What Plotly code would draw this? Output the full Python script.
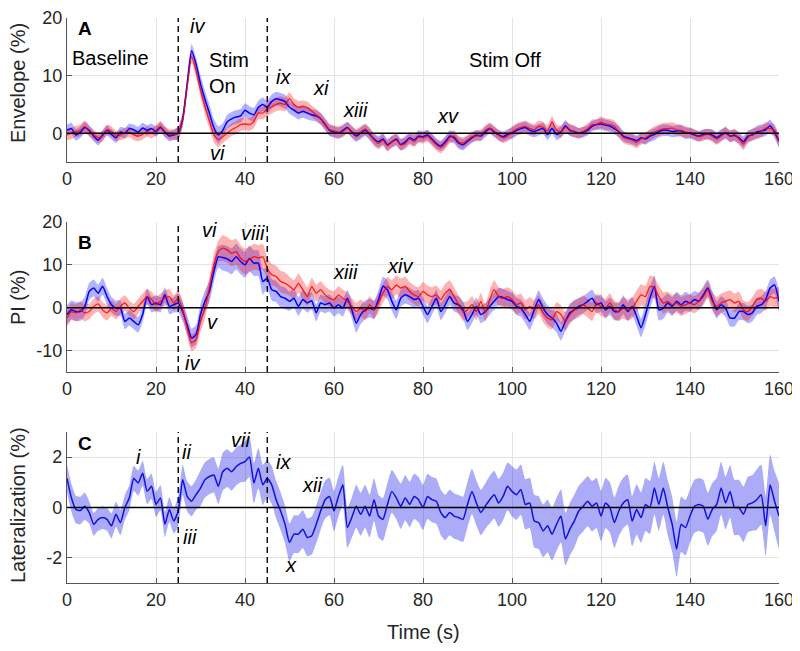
import numpy as np
import plotly.graph_objects as go

# ---------------- data (1 s resolution, t = 0..160 s) ----------------
time_s = list(range(161))

env_blue = [
    0.5, 0.8, -0.3, 0.2, 1.0, 0.5, -0.5, -1.2, -0.3, 0.5,
    -0.2, -0.8, 0.2, 0.0, 0.8, 0.6, 0.2, 0.9, 0.5, 0.8,
    0.3, 1.0, 0.2, -0.5, -0.3, 0.0, 2.5, 8.5, 14.3, 12.0,
    8.6, 5.9, 3.5, 1.0, -0.3, 0.5, 2.0, 2.5, 2.8, 3.0,
    4.0, 3.5, 3.2, 4.5, 5.0, 4.5, 5.5, 6.0, 5.8, 5.5,
    4.5, 4.0, 3.5, 3.8, 3.5, 3.2, 3.0, 2.5, 1.5, 0.5,
    0.2, 0.0, 0.5, 1.0, 0.2, -0.5, 0.0, 0.5, -0.2, -1.0,
    -1.5, -1.0, -2.0, -1.5, -1.0, -2.0, -1.5, -0.8, -1.2, -0.5,
    -0.6, -0.3, -1.0, -1.8, -2.2, -1.5, -0.5, -0.8, -1.7, -2.0,
    -1.4, -0.8, -0.3, -0.5, 0.2, 0.8, 0.2, -0.3, -0.6, -0.2,
    0.0, 0.5, 0.8, 1.0, 0.5, 0.3, 0.6, 0.8, -0.2, 0.8,
    -0.2, 0.2, 1.3, 0.5, 0.3, 0.0, 0.2, 0.5, 1.2, 1.5,
    1.6, 1.4, 1.2, 0.8, 0.3, -0.5, -0.8, -1.0, -1.3, -0.8,
    -1.0, -0.5, -0.2, 0.3, 0.5, 0.5, 0.3, 0.4, 0.4, 0.0,
    0.0, -0.3, -0.5, -0.2, -0.2, -0.3, -0.8, -0.3, 0.0, -0.5,
    -0.4, -0.8, -1.5, -0.5, -0.3, 0.2, 0.4, 0.6, 1.3, 0.2,
    -1.4,
]
env_red = [
    -0.2, 0.0, 0.3, 0.5, 1.2, 0.3, -0.3, -0.8, -0.5, 0.6,
    0.3, -0.5, -0.3, 0.0, 0.2, -0.3, -0.5, -0.2, 0.3, 0.0,
    0.5, 1.2, 0.3, -0.2, -0.2, 0.0, 2.2, 8.0, 13.3, 10.8,
    7.5, 4.6, 2.1, -0.3, -1.1, -0.6, 0.0, 0.6, 1.0, 1.5,
    1.6, 1.5, 2.0, 3.5, 3.5, 4.2, 4.6, 5.0, 5.2, 5.0,
    6.0, 5.0, 4.5, 4.6, 4.4, 3.8, 3.2, 2.5, 1.6, 0.6,
    0.4, 0.2, 0.3, 0.9, 0.3, -0.3, 0.2, 0.7, 0.0, -1.2,
    -1.8, -1.2, -2.2, -1.5, -1.2, -2.0, -1.8, -1.0, -1.4, -0.7,
    -0.8, -0.5, -1.2, -2.0, -2.5, -1.8, -0.8, -0.5, -1.5, -1.7,
    -1.2, -0.6, -0.5, -0.3, 0.5, 0.9, 0.4, -0.4, -0.8, -0.5,
    0.2, 0.7, 1.0, 1.2, 0.8, 0.6, 1.2, 1.0, 0.4, 2.0,
    0.5, 0.3, 1.0, 0.6, 0.3, 0.0, 0.3, 0.8, 1.5, 1.5,
    1.9, 1.6, 1.5, 1.2, 0.2, -0.7, -1.0, -1.2, -1.6, -1.0,
    -0.8, -0.3, 0.2, 0.5, 0.8, 0.8, 0.9, 0.6, 0.5, 0.2,
    0.1, -0.2, -0.6, -0.4, -0.1, -0.5, -1.0, -0.5, 0.2, -0.6,
    -0.2, -1.0, -1.9, -0.8, -0.2, 0.0, 0.3, 0.9, 0.8, 0.5,
    -1.4,
]
pi_blue = [
    -1.6, -0.5, -0.9, -0.9, 0.3, 3.8, 4.6, 3.4, 5.0, 2.6,
    0.7, -0.1, -0.1, -3.2, -2.4, -3.2, -4.0, -1.6, 2.6, 0.7,
    1.1, 0.7, 3.0, 0.3, 0.7, 1.1, -0.9, -4.0, -7.1, -6.3,
    -1.6, 1.5, 3.8, 8.4, 11.9, 11.7, 11.4, 10.8, 11.9, 10.8,
    10.0, 11.5, 10.4, 10.4, 6.1, 6.9, 4.2, 3.8, 2.6, 2.2,
    1.5, 2.2, 0.3, 1.9, 1.1, 1.6, -1.2, 1.1, 0.7, 1.1,
    -0.1, 0.7, -0.1, 2.2, -0.5, -3.6, -1.6, -0.5, -0.1, -0.5,
    1.9, 5.0, 4.2, 1.5, -0.5, 2.2, 3.0, 2.6, 1.9, 2.2,
    0.3, -1.6, 0.3, 2.2, -0.9, 0.7, 2.6, 1.1, 0.7, -0.5,
    -3.2, -1.6, 0.3, -1.6, -0.9, 0.3, 1.5, 2.6, 2.4, 1.9,
    1.5, 0.3, -0.1, -1.6, -3.2, -0.5, 1.9, -0.1, -1.6, -2.4,
    -3.6, -5.5, -3.2, -1.2, -0.5, 0.3, 0.7, 1.5, 2.2, 0.7,
    1.1, -0.5, 0.3, -0.9, -0.9, 0.7, -0.9, 0.3, -2.0, -4.7,
    -1.6, 2.2, 5.0, -0.5, -0.1, 1.1, 0.3, 1.5, 0.7, 1.5,
    1.1, 1.9, 1.5, 3.0, 4.6, 1.9, -0.5, 0.7, -0.1, -2.4,
    -2.4, -0.9, -0.9, -1.6, -1.2, 0.3, 0.7, 1.9, 4.6, 5.3,
    1.5,
]
pi_red = [
    -2.4, -0.9, -1.2, -0.5, -1.2, -0.9, 0.3, 0.9, -0.5, -1.2,
    -0.1, -0.9, 0.3, 1.1, -0.1, -0.9, 0.3, 1.5, 2.6, 1.9,
    0.7, 1.5, 2.2, 2.6, 1.1, 2.2, -0.5, -4.7, -8.2, -7.4,
    -3.2, -0.1, 4.6, 10.0, 13.1, 13.9, 13.5, 12.7, 13.1, 11.6,
    10.8, 11.2, 11.9, 11.6, 11.9, 9.2, 7.7, 7.3, 6.1, 5.7,
    5.0, 4.2, 5.7, 4.2, 2.6, 5.0, 3.4, 4.2, 3.0, 2.2,
    1.9, 3.0, 2.2, 1.5, 0.3, -0.9, -0.1, -0.9, 0.7, -0.5,
    1.1, 3.4, 5.0, 4.2, 5.3, 4.6, 5.0, 3.8, 3.0, 2.6,
    3.8, 3.0, 2.6, 3.0, 1.9, 3.4, 4.2, 2.6, 0.7, -0.9,
    -0.5, 0.7, -0.9, 1.5, -1.2, 1.9, 4.2, 2.6, 2.2, 2.6,
    1.9, 0.7, 1.1, -0.5, 0.3, -0.5, 0.7, -1.2, -2.4, -2.8,
    -0.9, -1.6, -3.2, -1.6, -0.5, -0.1, 0.7, -0.1, -0.9, 1.1,
    0.3, -0.1, 1.1, -0.5, -0.9, -0.1, -0.5, -0.1, 1.5, 3.0,
    2.6, 5.0, 4.6, 2.6, 1.1, 1.5, 0.7, 1.1, 0.3, 0.7,
    1.1, 0.7, 1.5, 2.6, 4.2, 1.5, 0.3, 1.1, 1.5, 1.9,
    1.1, 1.5, -0.5, -0.9, 0.3, 1.9, 2.2, 1.5, 2.6, 2.2,
    2.6,
]
lat_blue = [
    1.16, 0.38, -0.08, -0.12, 0.05, -0.2, -0.67, -0.47, -0.4, -0.47,
    -0.73, -0.27, -0.6, 0.0, 0.38, 1.16, 0.97, 1.36, 0.64, 0.84,
    0.12, 0.38, -0.67, -0.08, -0.54, -0.14, 1.1, 0.44, 0.25, 0.51,
    0.77, 1.1, 1.23, 1.29, 0.84, 1.42, 1.56, 1.42, 1.62, 1.75,
    1.82, 2.01, 0.97, 1.56, 0.9, 1.16, 0.9, 0.31, -0.14, -0.67,
    -1.39, -1.06, -1.06, -0.86, -1.19, -1.12, -0.67, -0.14, 0.31, 0.44,
    -0.14, 0.44, 0.9, -0.8, -0.4, 0.05, -0.27, 0.05, -0.34, 0.31,
    -0.34, -0.47, 0.12, 0.64, 0.38, 0.05, 0.38, 0.12, 0.44, 0.31,
    0.0, 0.44, 0.31, 0.25, -0.2, -0.4, -0.2, -0.34, -0.4, -0.47,
    0.12, 0.64, 0.18, -0.2, 0.05, 0.31, 0.51, 0.18, 0.44, 0.84,
    0.64, 0.51, 0.71, 0.12, 0.18, -0.54, -0.6, -0.93, -0.73, -1.06,
    -0.67, -0.34, -1.25, -0.86, -0.54, -0.14, 0.05, 0.25, 0.05, 0.18,
    -0.34, 0.18, 0.0, -0.6, -0.14, 0.18, 0.31, -0.54, -0.08, -0.4,
    0.12, 0.0, 0.77, 0.12, 0.77, 0.0, -0.67, -1.65, -0.67, -0.8,
    -0.34, 0.05, 0.12, 0.05, -0.47, -0.08, 0.12, 0.77, 0.18, 0.64,
    0.0, 0.0, -0.27, 0.12, 0.18, 0.31, 0.51, -0.73, 0.9, 0.25,
    -0.34,
]

# error-band half widths, one value per 5 s block (t = 0,5,...,160)
env_blue_hw = [1.0, 0.9, 0.9, 0.9, 0.9, 1.2, 1.5, 1.2, 1.2, 1.2, 1.1, 1.0, 1.0, 1.0,
               1.0, 1.0, 0.9, 1.0, 0.9, 0.9, 1.0, 1.0, 1.0, 0.9, 1.0, 0.9, 1.0, 1.0,
               0.9, 1.0, 1.0, 1.1, 1.0]
env_red_hw = [1.0, 0.9, 0.9, 0.9, 0.9, 1.1, 1.3, 1.1, 1.1, 1.2, 1.1, 1.0, 1.0, 1.0,
              1.0, 1.0, 1.0, 1.0, 0.9, 0.9, 1.0, 1.0, 1.0, 0.9, 1.0, 1.0, 1.0, 1.0,
              0.9, 1.0, 1.0, 1.0, 1.0]
pi_blue_hw = [2.2, 2.0, 1.8, 1.8, 1.8, 2.2, 2.5, 3.0, 3.0, 2.5, 2.2, 2.0, 2.0, 2.2,
              2.2, 2.0, 2.0, 2.0, 2.0, 2.0, 2.0, 2.2, 2.2, 2.0, 2.0, 2.2, 2.5, 2.2,
              2.0, 2.0, 2.0, 2.0, 2.5]
pi_red_hw = [2.0, 1.8, 1.8, 1.8, 1.8, 2.0, 2.5, 3.0, 3.0, 2.5, 2.2, 2.0, 2.0, 2.0,
             2.2, 2.2, 2.2, 2.2, 2.0, 2.2, 2.2, 2.2, 2.2, 2.2, 2.2, 2.5, 2.5, 2.2,
             2.0, 2.2, 2.2, 2.2, 2.2]
lat_hw = [0.55, 0.45, 0.5, 0.5, 0.5, 0.6, 0.7, 0.75, 0.8, 0.75, 0.75, 0.75, 0.8, 0.85,
          0.85, 0.9, 0.9, 0.9, 0.9, 0.95, 1.0, 1.05, 1.05, 1.0, 1.0, 1.0, 1.05, 1.1,
          1.05, 1.05, 1.1, 1.2, 1.3]

# tick labels
x_ticks = [0, 20, 40, 60, 80, 100, 120, 140, 160]
env_ticks = [0, 10, 20]
pi_ticks = [-10, 0, 10, 20]
lat_ticks = [-2, 0, 2]

# ---------------- styling ----------------
BLUE = "#0000ff"
RED = "#ff0000"
BLUE_FILL = "rgba(0,0,255,0.30)"
RED_FILL = "rgba(255,0,0,0.30)"
FONT = "Liberation Sans, Arial, sans-serif"
TXT = "#262626"
SMOOTH = dict(shape="spline", smoothing=0.5)
TICK_SIZE = 18
LABEL_SIZE = 20

t = np.array(time_s, dtype=float)


def expand(hw):
    return np.repeat(np.array(hw, dtype=float), 5)[: len(t)]


fig = go.Figure()


def add_band(mean, hw, fill, xa, ya):
    m = np.array(mean, dtype=float)
    h = expand(hw)
    up, lo = m + h, m - h
    fig.add_trace(go.Scatter(
        x=np.concatenate([t, t[::-1]]), y=np.concatenate([up, lo[::-1]]),
        fill="toself", fillcolor=fill, line=dict(width=0, **SMOOTH), mode="lines",
        hoverinfo="skip", showlegend=False, xaxis=xa, yaxis=ya))


def add_line(mean, color, xa, ya, width=1.5, opacity=1.0):
    fig.add_trace(go.Scatter(x=t, y=mean, mode="lines",
                             line=dict(color=color, width=width, **SMOOTH), opacity=opacity,
                             showlegend=False, xaxis=xa, yaxis=ya))


# Panel A
add_band(env_blue, env_blue_hw, BLUE_FILL, "x", "y")
add_band(env_red, env_red_hw, RED_FILL, "x", "y")
add_line(env_blue, BLUE, "x", "y")
add_line(env_red, RED, "x", "y", width=1.3, opacity=0.8)
# Panel B
add_band(pi_blue, pi_blue_hw, BLUE_FILL, "x2", "y2")
add_band(pi_red, pi_red_hw, RED_FILL, "x2", "y2")
add_line(pi_blue, BLUE, "x2", "y2")
add_line(pi_red, RED, "x2", "y2", width=1.3, opacity=0.85)
# Panel C
add_band(lat_blue, lat_hw, "rgba(0,0,230,0.33)", "x3", "y3")
add_line(lat_blue, "#1010e0", "x3", "y3")


def tick_text(vals):
    return [str(v) for v in vals]  # ASCII hyphen for negatives


xcommon = dict(range=[0, 160], tickvals=x_ticks, ticktext=tick_text(x_ticks),
               showgrid=True, gridcolor="#e3e3e3",
               gridwidth=1, showline=True, linecolor="#555555", linewidth=1.3,
               ticks="inside", ticklen=5, tickcolor="#555555", zeroline=False,
               ticklabeloverflow="allow",
               tickfont=dict(family=FONT, size=TICK_SIZE, color=TXT), domain=[0, 1])
ycommon = dict(showgrid=True, gridcolor="#e3e3e3", gridwidth=1, showline=True,
               linecolor="#555555", linewidth=1.3, ticks="inside", ticklen=5,
               tickcolor="#555555", zeroline=False, ticklabeloverflow="allow",
               tickfont=dict(family=FONT, size=TICK_SIZE, color=TXT))

# page body has an 8px margin, so the figure is sized to fit inside the window
domA = [0.7451, 1.0]
domB = [0.3735, 0.6389]
domC = [0.0, 0.2673]

fig.update_layout(
    width=792, height=643,
    margin=dict(l=59, r=21, t=10, b=68, autoexpand=False),
    paper_bgcolor="white", plot_bgcolor="white",
    font=dict(family=FONT, color=TXT),
    xaxis=dict(**xcommon, anchor="y"),
    xaxis2=dict(**xcommon, anchor="y2"),
    xaxis3=dict(**xcommon, anchor="y3"),
    yaxis=dict(**ycommon, domain=domA, range=[-5, 20], tickvals=env_ticks,
               ticktext=tick_text(env_ticks), anchor="x"),
    yaxis2=dict(**ycommon, domain=domB, range=[-15, 20], tickvals=pi_ticks,
                ticktext=tick_text(pi_ticks), anchor="x2"),
    yaxis3=dict(**ycommon, domain=domC, range=[-3, 3], tickvals=lat_ticks,
                ticktext=tick_text(lat_ticks), anchor="x3"),
)

shapes = []
for xa, ya in [("x", "y"), ("x2", "y2"), ("x3", "y3")]:
    shapes.append(dict(type="line", xref=f"{xa} domain", yref=ya, x0=0, x1=1, y0=0, y1=0,
                       line=dict(color="black", width=1.5), layer="above"))
    for xv in (25, 45):
        shapes.append(dict(type="line", xref=xa, yref=f"{ya} domain", x0=xv, x1=xv, y0=0, y1=1,
                           line=dict(color="black", width=1.4, dash="6px,4px"), layer="above"))
fig.update_layout(shapes=shapes)

ann = []


def txt(x, y, s, xa, ya, size=LABEL_SIZE, xanchor="center", italic=False, bold=False):
    if italic:
        s = f"<i>{s}</i>"
    if bold:
        s = f"<b>{s}</b>"
    ann.append(dict(x=x, y=y, xref=xa, yref=ya, text=s, showarrow=False,
                    xanchor=xanchor, yanchor="middle",
                    font=dict(family=FONT, size=size, color="black")))


# Panel A labels
txt(2.0, 18.2, "A", "x", "y", size=19, xanchor="left", bold=True)
txt(9.8, 13.1, "Baseline", "x", "y")
txt(31.5, 12.7, "Stim", "x", "y", xanchor="left")
txt(31.5, 8.2, "On", "x", "y", xanchor="left")
txt(98.4, 12.7, "Stim Off", "x", "y")
txt(29.4, 18.6, "iv", "x", "y", italic=True)
txt(33.9, -3.4, "vi", "x", "y", italic=True)
txt(48.6, 9.8, "ix", "x", "y", italic=True)
txt(57.0, 7.8, "xi", "x", "y", italic=True)
txt(64.8, 4.0, "xiii", "x", "y", italic=True)
txt(85.6, 3.0, "xv", "x", "y", italic=True)
# Panel B labels
txt(2.0, 15.3, "B", "x2", "y2", size=19, xanchor="left", bold=True)
txt(32.1, 18.1, "vi", "x2", "y2", italic=True)
txt(41.8, 17.4, "viii", "x2", "y2", italic=True)
txt(32.8, -3.3, "v", "x2", "y2", italic=True)
txt(28.1, -13.0, "iv", "x2", "y2", italic=True)
txt(62.5, 8.4, "xiii", "x2", "y2", italic=True)
txt(74.8, 9.8, "xiv", "x2", "y2", italic=True)
# Panel C labels
txt(2.0, 2.55, "C", "x3", "y3", size=19, xanchor="left", bold=True)
txt(16.0, 2.0, "i", "x3", "y3", italic=True)
txt(26.8, 2.2, "ii", "x3", "y3", italic=True)
txt(27.6, -1.18, "iii", "x3", "y3", italic=True)
txt(38.9, 2.7, "vii", "x3", "y3", italic=True)
txt(48.6, 1.8, "ix", "x3", "y3", italic=True)
txt(55.0, 0.9, "xii", "x3", "y3", italic=True)
txt(50.3, -2.27, "x", "x3", "y3", italic=True)

# axis titles
for yc, label in [(0.885, "Envelope (%)"),
                  (0.506, "PI (%)"),
                  (0.138, "Lateralization (%)")]:
    ann.append(dict(x=-0.0688, y=yc, xref="paper", yref="paper", text=label,
                    textangle=-90, showarrow=False, xanchor="center", yanchor="middle",
                    font=dict(family=FONT, size=LABEL_SIZE, color=TXT)))
ann.append(dict(x=0.5, y=-0.0867, xref="paper", yref="paper", text="Time (s)",
                showarrow=False, xanchor="center", yanchor="middle",
                font=dict(family=FONT, size=LABEL_SIZE, color=TXT)))

fig.update_layout(annotations=ann)
fig.write_html("out.html")
